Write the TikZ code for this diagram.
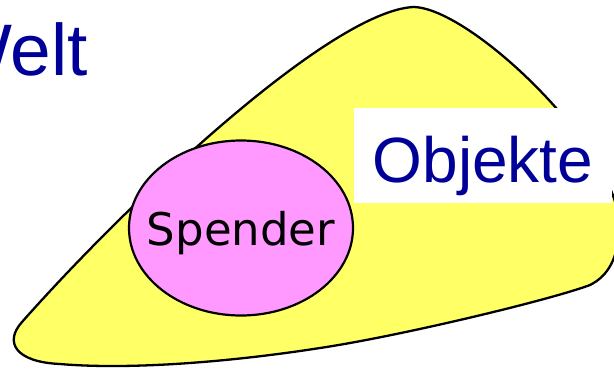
\documentclass[tikz,border=0pt]{standalone}
\usepackage{fontspec}
\setmainfont{Liberation Sans}
\newfontfamily\dejavu{DejaVu Sans}
\usetikzlibrary{shapes.geometric}
\definecolor{textblue}{RGB}{0,0,153}
\definecolor{blobyellow}{RGB}{255,255,102}
\definecolor{spenderpink}{RGB}{255,153,255}
\tikzset{
  blobline/.style={draw=black, line width=2.3pt, fill=blobyellow, line join=round},
  spendershape/.style={ellipse, draw=black, line width=2.2pt, fill=spenderpink, minimum width=224pt, minimum height=175pt, inner sep=0pt},
  spenderlabel/.style={anchor=base, inner sep=0pt, font=\dejavu\fontsize{45}{50}\selectfont, text=black},
  objbox/.style={rectangle, fill=white, draw=none, minimum width=258pt, minimum height=95pt, inner sep=0pt},
  bluelabel/.style={inner sep=0pt, text=textblue},
}
\begin{document}
\begin{tikzpicture}[x=1pt, y=-1pt]
\useasboundingbox (0,0) rectangle (614,368);
\fill[white] (0,0) rectangle (614,368);
% blob
\path[blobline] (22,322) .. controls (130,200) and (330,12) .. (413,7)
  .. controls (470,7) and (619,150) .. (619,225)
  .. controls (619,258) and (608,276) .. (590,285)
  .. controls (550,300) and (400,336) .. (320,348)
  .. controls (230,362) and (130,370) .. (60,364)
  .. controls (15,362) and (4,342) .. (22,322) -- cycle;
% Objekte box
\node[objbox] (objbox) at (483,155.5) {};
\node[bluelabel, anchor=base, font=\fontsize{64}{70}\selectfont] (objekte) at (483,182) {Objekte};
% Spender ellipse
\node[spendershape] (spender) at (241,228) {};
\node[spenderlabel] (spendertext) at (241,245) {Spender};
% Welt
\node[bluelabel, anchor=base west, font=\fontsize{73}{80}\selectfont] (welt) at (-57,75) {Welt};
\end{tikzpicture}
\end{document}
